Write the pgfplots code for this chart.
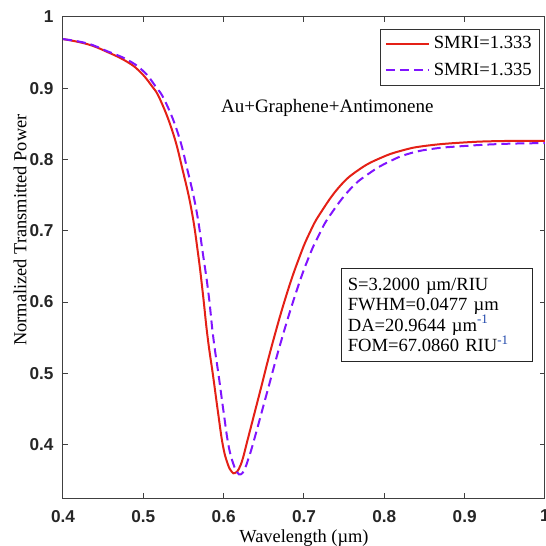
\documentclass[border=0pt]{standalone}
\usepackage{fontspec}
\setmainfont{Liberation Serif}
\newfontfamily\tickfont{Liberation Sans}
\usepackage{pgfplots}
\pgfplotsset{compat=1.18}
\definecolor{cred}{RGB}{228,32,22}
\definecolor{cpur}{RGB}{128,20,255}
\definecolor{supblue}{RGB}{30,70,170}
\begin{document}
\begin{tikzpicture}
\begin{axis}[
  scale only axis,
  width=241pt, height=240.5pt,
  xmin=0.4, xmax=1, ymin=0.325, ymax=1,
  xtick={0.4,0.5,0.6,0.7,0.8,0.9,1},
  ytick={0.4,0.5,0.6,0.7,0.8,0.9,1},
  tick align=inside,
  major tick length=2.5pt,
  tick style={black!75, line width=0.5pt},
  axis line style={black!75, line width=0.5pt},
  /pgf/number format/assume math mode=true,
  ticklabel style={font=\tickfont\bfseries\fontsize{8.6}{10}\selectfont, text=black!85},
  xticklabel style={yshift=-2.5pt},
  yticklabel style={xshift=-1.2pt},
  xlabel={Wavelength (µm)},
  ylabel={Normalized Transmitted Power},
  label style={font=\fontsize{9.2}{11}\selectfont},
  xlabel style={at={(axis description cs:0.5,-0.0832)}, anchor=center},
  ylabel style={at={(axis description cs:-0.0892,0.557)}, anchor=center},
  legend style={at={(0.99,0.975)}, anchor=north east, draw=black!80, line width=0.5pt,
     font=\fontsize{9.3}{11}\selectfont, inner xsep=2pt, inner ysep=1.5pt, row sep=1.5pt},
  legend cell align=left,
  legend image code/.code={\draw[#1] (0pt,0pt) -- (21.5pt,0pt);},
]
\addplot[cred, line width=1pt, smooth, tension=0.75] coordinates {
(0.400,0.969) (0.430,0.962) (0.455,0.951) (0.480,0.937) (0.496,0.923)
(0.510,0.904) (0.521,0.884) (0.537,0.837) (0.549,0.785) (0.560,0.729)
(0.568,0.669) (0.574,0.613) (0.580,0.551) (0.587,0.495) (0.593,0.445)
(0.599,0.399) (0.605,0.373) (0.610,0.362) (0.614,0.360) (0.619,0.366)
(0.624,0.381) (0.629,0.403) (0.645,0.473) (0.661,0.543) (0.679,0.613)
(0.695,0.665) (0.707,0.697) (0.720,0.724) (0.745,0.763) (0.770,0.787)
(0.795,0.802) (0.820,0.812) (0.850,0.819) (0.900,0.824) (0.950,0.826) (1.000,0.826)
};
\addlegendentry{SMRI=1.333}
\addplot[cpur, line width=1pt, smooth, tension=0.75, dash pattern=on 4.5pt off 2.5pt] coordinates {
(0.400,0.969) (0.430,0.963) (0.455,0.952) (0.480,0.940) (0.500,0.924)
(0.515,0.903) (0.527,0.882) (0.543,0.837) (0.555,0.785) (0.566,0.729)
(0.574,0.669) (0.581,0.613) (0.587,0.551) (0.594,0.495) (0.600,0.445)
(0.606,0.399) (0.612,0.373) (0.617,0.361) (0.621,0.358) (0.626,0.365)
(0.631,0.381) (0.637,0.403) (0.654,0.473) (0.671,0.543) (0.690,0.613)
(0.706,0.663) (0.719,0.695) (0.732,0.721) (0.758,0.759) (0.783,0.782)
(0.806,0.797) (0.830,0.808) (0.860,0.815) (0.900,0.819) (0.950,0.822) (1.000,0.823)
};
\addlegendentry{SMRI=1.335}
\node[font=\fontsize{9.5}{11}\selectfont] at (axis cs:0.729,0.872) {Au+Graphene+Antimonene};
\node[draw=black!85, line width=0.5pt, font=\fontsize{9.3}{10.25}\selectfont,
      align=left, text width=89.5pt, inner xsep=3pt, minimum height=46.5pt]
  at (axis cs:0.866,0.582)
  {S=3.2000 µm/RIU\\FWHM=0.0477 µm\\DA=20.9644 µm\textsuperscript{\textcolor{supblue}{-1}}\\FOM=67.0860 RIU\textsuperscript{\textcolor{supblue}{-1}}};
\end{axis}
\pgfresetboundingbox
\useasboundingbox ([shift={(-31.5pt,-24pt)}]current axis.south west) rectangle ([shift={(0.5pt,8.5pt)}]current axis.north east);
\end{tikzpicture}
\end{document}
